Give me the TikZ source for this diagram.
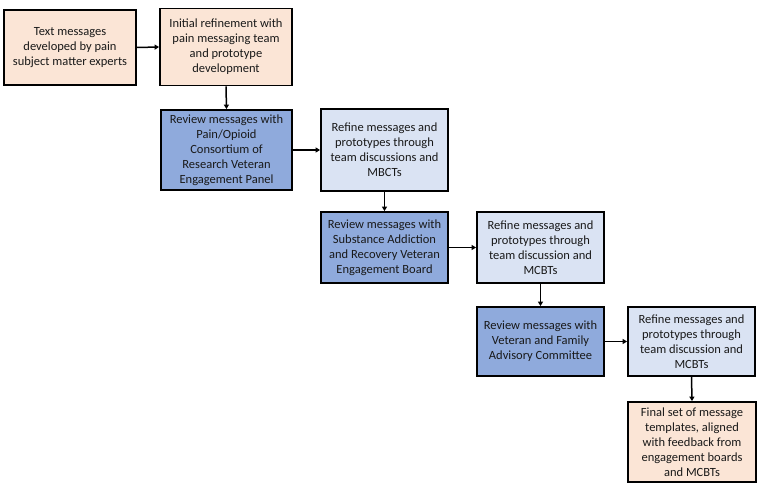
\documentclass[tikz,border=0pt]{standalone}
\usepackage{fontspec}
\setmainfont{Carlito}
\usetikzlibrary{arrows.meta}
\definecolor{peach}{HTML}{FBE5D6}
\definecolor{darkblue}{HTML}{8FAADC}
\definecolor{lightblue}{HTML}{DAE3F3}
\tikzset{
  box/.style={draw=black, line width=1.8pt, align=center, inner sep=2pt,
    font=\fontsize{12.5pt}{15pt}\selectfont, text=black!90},
  peachbox/.style={box, fill=peach},
  darkbox/.style={box, fill=darkblue},
  lightbox/.style={box, fill=lightblue},
  conn/.style={line width=1.5pt, -{Triangle[length=4.5pt,width=5pt]}}
}
\begin{document}
\begin{tikzpicture}[x=1pt,y=-1pt]
\useasboundingbox (0,0) rectangle (757,492);
\node[peachbox, minimum width=132pt, minimum height=75pt] (b1) at (70,47.5)
  {Text messages\\developed by pain\\subject matter experts};
\node[peachbox, minimum width=132pt, minimum height=77pt] (b2) at (226,47)
  {Initial refinement with\\pain messaging team\\and prototype\\development};
\node[darkbox, minimum width=131pt, minimum height=80pt] (b3) at (226.5,150)
  {Review messages with\\Pain/Opioid\\Consortium of\\Research Veteran\\Engagement Panel};
\node[lightbox, minimum width=127pt, minimum height=82pt] (b4) at (384.5,150)
  {Refine messages and\\prototypes through\\team discussions and\\MBCTs};
\node[darkbox, minimum width=127pt, minimum height=71pt] (b5) at (384.5,247.5)
  {Review messages with\\Substance Addiction\\and Recovery Veteran\\Engagement Board};
\node[lightbox, minimum width=127pt, minimum height=71pt] (b6) at (540.5,247.5)
  {Refine messages and\\prototypes through\\team discussion and\\MCBTs};
\node[darkbox, minimum width=127pt, minimum height=69pt] (b7) at (540.5,341.5)
  {Review messages with\\Veteran and Family\\Advisory Committee};
\node[lightbox, minimum width=127pt, minimum height=69pt] (b8) at (691.5,341.5)
  {Refine messages and\\prototypes through\\team discussion and\\MCBTs};
\node[peachbox, minimum width=128pt, minimum height=80pt] (b9) at (692,442)
  {Final set of message\\templates, aligned\\with feedback from\\engagement boards\\and MCBTs};
\draw[conn] (b1.east) -- (b2.west);
\draw[conn] (b2.south) -- (b3.north);
\draw[conn] (b3.east) -- (b4.west);
\draw[conn] (b4.south) -- (b5.north);
\draw[conn] (b5.east) -- (b6.west);
\draw[conn] (b6.south) -- (b7.north);
\draw[conn] (b7.east) -- (b8.west);
\draw[conn] (b8.south) -- (b9.north);
\end{tikzpicture}
\end{document}
